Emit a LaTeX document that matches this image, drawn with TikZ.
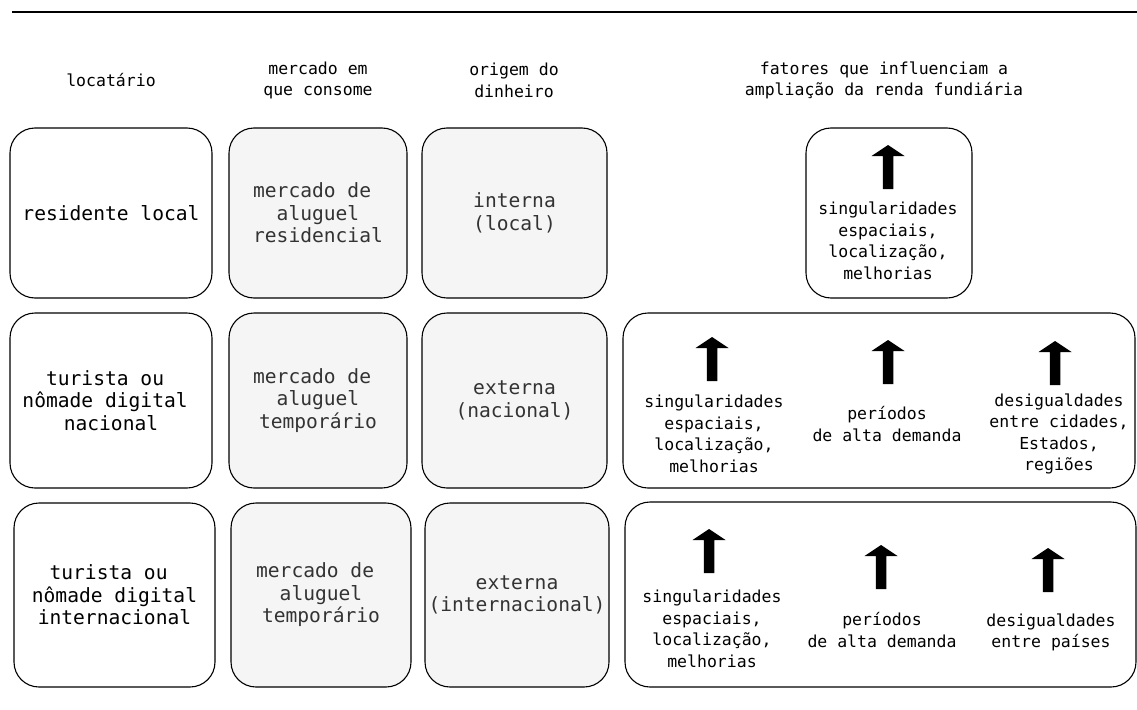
\documentclass[tikz,border=0pt]{standalone}
\usepackage{fontspec}
\setmonofont{DejaVu Sans Mono}

\definecolor{cellfill}{HTML}{F5F5F5}
\definecolor{celltext}{HTML}{333333}

\newcommand\cellfont{\fontsize{19.6}{22.5}\selectfont\ttfamily}
\newcommand\notefont{\fontsize{16.5}{21.5}\selectfont\ttfamily}
\newcommand\tsp{\hphantom{x}}

\tikzset{
  cell/.style={draw=black, line width=1.1pt, rounded corners=25pt,
               inner sep=0pt, align=center, font=\cellfont, text=black},
  graycell/.style={cell, fill=cellfill, text=celltext},
  panel/.style={draw=black, line width=1.1pt, rounded corners=25pt, inner sep=0pt},
  note/.style={align=center, font=\notefont, inner sep=0pt, text=black},
  head/.style={align=center, font=\notefont, inner sep=0pt, text=black},
  uparrow/.pic={\fill[black] (-5.25,0) -- (-5.25,-33) -- (-16.5,-33) -- (0,-44)
                -- (16.5,-33) -- (5.25,-33) -- (5.25,0) -- cycle;}
}

\begin{document}
\begin{tikzpicture}[x=1pt,y=-1pt]
\useasboundingbox (0,0) rectangle (1137,709);

% top rule
\coordinate (ruleL) at (12,12);
\coordinate (ruleR) at (1137,12);
\draw[line width=1.4pt] (ruleL) -- (ruleR);

% column headings
\node[head] (h1) at (111,80.5) {locatário};
\node[head] (h2) at (318,80.5) {mercado em\\que consome};
\node[head] (h3) at (514,80.5) {origem do\\dinheiro};
\node[head] (h4) at (884,80.5) {fatores que influenciam a\\ampliação da renda fundiária};

% row 1: local resident
\node[cell, minimum width=202pt, minimum height=170pt] (a1) at (111,213) {residente local};
\node[graycell, minimum width=178pt, minimum height=170pt] (b1) at (318,213)
  {mercado de\tsp\\aluguel\\residencial};
\node[graycell, minimum width=185pt, minimum height=170pt] (c1) at (514.5,213)
  {interna\\(local)};
\node[panel, minimum width=166pt, minimum height=170pt] (d1) at (889,213) {};
\pic at (888,189) {uparrow};
\node[note] (d1a) at (888,241) {singularidades\\espaciais,\\localização,\\melhorias};

% row 2: national tourist / digital nomad
\node[cell, minimum width=202pt, minimum height=175pt] (a2) at (111,400.5)
  {turista ou\tsp\\nômade digital\tsp\\nacional};
\node[graycell, minimum width=178pt, minimum height=175pt] (b2) at (318,400.5)
  {mercado de\tsp\\aluguel\\temporário};
\node[graycell, minimum width=185pt, minimum height=175pt] (c2) at (514.5,400.5)
  {externa\\(nacional)};
\node[panel, minimum width=512pt, minimum height=175pt] (d2) at (879,400.5) {};
\pic at (712,381) {uparrow};
\pic at (888,384) {uparrow};
\pic at (1055,385) {uparrow};
\node[note] (d2a) at (714,434) {singularidades\\espaciais,\\localização,\\melhorias};
\node[note] (d2b) at (887,424) {períodos\\de alta demanda};
\node[note] (d2c) at (1059,434) {desigualdades\\entre cidades,\\Estados,\\regiões};

% row 3: international tourist / digital nomad
\node[cell, minimum width=201pt, minimum height=184pt] (a3) at (114.5,595)
  {turista ou\tsp\\nômade digital\\internacional};
\node[graycell, minimum width=180pt, minimum height=184pt] (b3) at (321,595)
  {mercado de\tsp\\aluguel\\temporário};
\node[graycell, minimum width=184pt, minimum height=184pt] (c3) at (517,595)
  {externa\\(internacional)};
\node[panel, minimum width=511pt, minimum height=185pt] (d3) at (880.5,594.5) {};
\pic at (709,573) {uparrow};
\pic at (881,589) {uparrow};
\pic at (1048,592) {uparrow};
\node[note] (d3a) at (712,629) {singularidades\\espaciais,\\localização,\\melhorias};
\node[note] (d3b) at (882,630) {períodos\\de alta demanda};
\node[note] (d3c) at (1051,632.5) {desigualdades\\entre países};
\end{tikzpicture}
\end{document}
